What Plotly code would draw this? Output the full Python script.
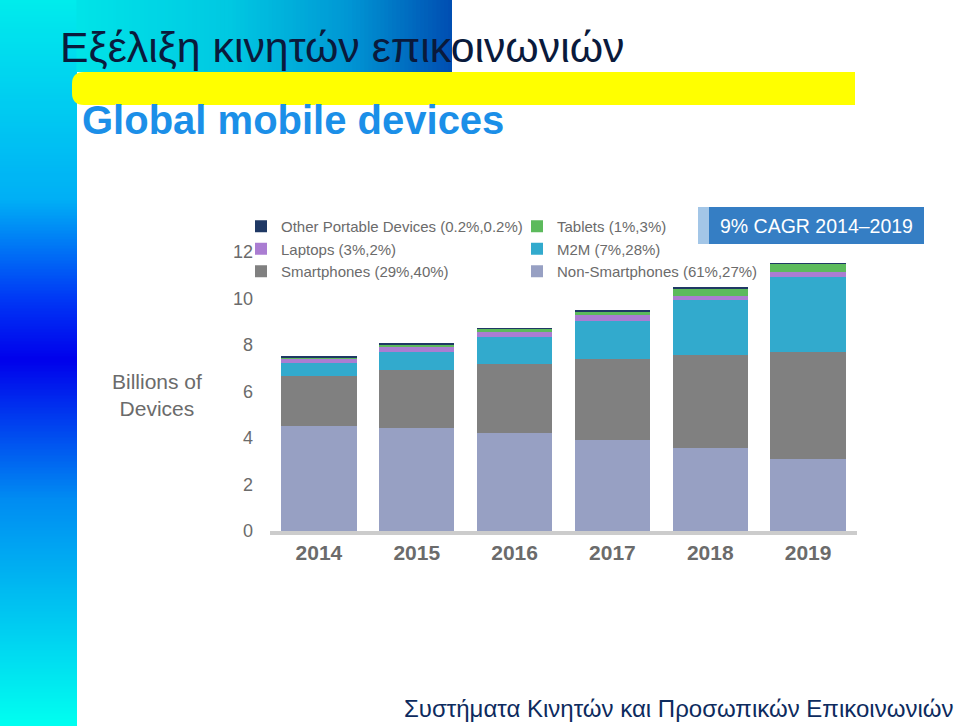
import plotly.graph_objects as go

# ---------------- data ----------------
years = ["2014", "2015", "2016", "2017", "2018", "2019"]
non_smartphones = [4.52, 4.44, 4.23, 3.91, 3.57, 3.10]
smartphones = [2.15, 2.48, 2.95, 3.49, 4.00, 4.61]
m2m = [0.56, 0.79, 1.18, 1.65, 2.37, 3.23]
laptops = [0.17, 0.19, 0.19, 0.24, 0.18, 0.21]
tablets = [0.07, 0.14, 0.15, 0.17, 0.32, 0.34]
other_portable = [0.02, 0.02, 0.02, 0.02, 0.02, 0.02]

series = [
    # name, values, colour, legend group, legend rank
    ("Non-Smartphones (61%,27%)", non_smartphones, "#97a0c3", "b", 6),
    ("Smartphones (29%,40%)", smartphones, "#808080", "a", 3),
    ("M2M (7%,28%)", m2m, "#32aacd", "b", 5),
    ("Laptops (3%,2%)", laptops, "#aa7dd2", "a", 2),
    ("Tablets (1%,3%)", tablets, "#5cba5c", "b", 4),
    ("Other Portable Devices (0.2%,0.2%)", other_portable, "#1f3864", "a", 1),
]
y_ticks = [0, 2, 4, 6, 8, 10, 12]

# ---------------- geometry helpers ----------------
FW, FH = 960, 726
L, R, T, B = 270, 103, 240, 195
PW, PH = FW - L - R, FH - T - B
YMAX = PH / 23.25


def fx(px):
    return (px - L) / PW


def fy(py):
    return (FH - B - py) / PH


def lerp_stops(stops, v):
    for (p0, c0), (p1, c1) in zip(stops[:-1], stops[1:]):
        if p0 <= v <= p1:
            t = (v - p0) / (p1 - p0) if p1 > p0 else 0
            return tuple(int(round(a + (b - a) * t)) for a, b in zip(c0, c1))
    return stops[-1][1]


shapes = []
# left vertical gradient strip
left_stops = [(0, (0, 236, 236)), (200, (0, 175, 245)), (300, (0, 55, 245)),
              (360, (0, 0, 236)), (500, (0, 140, 242)), (726, (0, 255, 240))]
step = 3
for y0 in range(0, FH, step):
    c = lerp_stops(left_stops, y0 + step / 2)
    shapes.append(dict(type="rect", xref="paper", yref="paper", layer="below",
                       x0=fx(-1), x1=fx(77), y0=fy(y0 - 0.6), y1=fy(y0 + step + 0.6),
                       fillcolor="rgb(%d,%d,%d)" % c, line=dict(width=0)))
# top horizontal gradient strip
top_stops = [(77, (0, 228, 232)), (230, (0, 200, 226)), (350, (0, 150, 212)),
             (452, (0, 78, 178))]
step = 4
for x0 in range(77, 452, step):
    c = lerp_stops(top_stops, x0 + step / 2)
    shapes.append(dict(type="rect", xref="paper", yref="paper", layer="below",
                       x0=fx(x0 - 0.6), x1=fx(min(x0 + step + 0.6, 452)), y0=fy(-1), y1=fy(72),
                       fillcolor="rgb(%d,%d,%d)" % c, line=dict(width=0)))
# yellow highlight bar with rounded left end
r = 12
path = ("M {a},{b} L {c},{b} L {c},{d} L {a},{d} Q {e},{d} {e},{f} L {e},{g} Q {e},{b} {a},{b} Z"
        .format(a=fx(72 + r), b=fy(72), c=fx(855), d=fy(105), e=fx(72),
                f=fy(105 - r), g=fy(72 + r)))
shapes.append(dict(type="path", xref="paper", yref="paper", layer="below", path=path,
                   fillcolor="#ffff00", line=dict(width=0)))
# CAGR box
shapes.append(dict(type="rect", xref="paper", yref="paper", layer="above",
                   x0=fx(698), x1=fx(709), y0=fy(207), y1=fy(244),
                   fillcolor="#a3c6e7", line=dict(width=0)))
shapes.append(dict(type="rect", xref="paper", yref="paper", layer="above",
                   x0=fx(709), x1=fx(924), y0=fy(207), y1=fy(244),
                   fillcolor="#357ec4", line=dict(width=0)))

# ---------------- figure ----------------
fig = go.Figure()
for name, vals, col, grp, rank in series:
    fig.add_trace(go.Bar(x=years, y=vals, name=name, marker=dict(color=col, line=dict(width=0)),
                         legendgroup=grp, legendrank=rank, hoverinfo="skip"))

TEXT_GREY = "#6b6b6b"
annotations = [
    dict(text="Εξέλιξη κινητών επικοινωνιών", x=fx(58), y=fy(47), xanchor="left", yanchor="middle",
         font=dict(family="Liberation Sans, Arial", size=42.8, color="#0a1a3c")),
    dict(text="<b>Global mobile devices</b>", x=fx(80), y=fy(120), xanchor="left", yanchor="middle",
         font=dict(family="Liberation Sans, Arial", size=40, color="#1b8fe8")),
    dict(text="Συστήματα Κινητών και Προσωπικών Επικοινωνιών", x=fx(955), y=fy(708),
         xanchor="right", yanchor="middle",
         font=dict(family="Liberation Sans, Arial", size=24, color="#0d2b5e")),
    dict(text="Billions of<br>Devices", x=fx(157), y=fy(395), xanchor="center", yanchor="middle",
         font=dict(family="Liberation Sans, Arial", size=21, color=TEXT_GREY)),
    dict(text="9% CAGR 2014–2019", x=fx(816), y=fy(226), xanchor="center", yanchor="middle",
         font=dict(family="Liberation Sans, Arial", size=19.5, color="#ffffff")),
]
for a in annotations:
    a.update(xref="paper", yref="paper", showarrow=False)

fig.update_layout(
    width=FW, height=FH,
    margin=dict(l=L, r=R, t=T, b=B, autoexpand=False),
    barmode="stack", bargap=0.23,
    paper_bgcolor="#ffffff", plot_bgcolor="rgba(0,0,0,0)",
    font=dict(family="Liberation Sans, Arial", color=TEXT_GREY),
    shapes=shapes, annotations=annotations,
    showlegend=True,
    legend=dict(orientation="h", traceorder="grouped", x=fx(241), y=fy(210),
                xanchor="left", yanchor="top", entrywidth=231, entrywidthmode="pixels",
                font=dict(family="Liberation Sans, Arial", size=15, color=TEXT_GREY),
                bgcolor="rgba(0,0,0,0)", itemclick=False, itemdoubleclick=False),
    xaxis=dict(type="category", showgrid=False, zeroline=False, showline=True,
               linecolor="#cccccc", linewidth=4, ticks="",
               tickfont=dict(family="Liberation Sans, Arial", size=21, color=TEXT_GREY),
               tickprefix="<b>", ticksuffix="</b>", ticklabelstandoff=0),
    yaxis=dict(range=[0, YMAX], tickvals=y_ticks, showgrid=False, zeroline=False,
               showline=False, ticks="", ticklabelstandoff=16,
               tickfont=dict(family="Liberation Sans, Arial", size=18, color=TEXT_GREY)),
)

fig.write_html("out.html", config={"displayModeBar": False},
               post_script="document.body.style.margin='0';document.body.style.padding='0';"
                           "document.documentElement.style.overflow='hidden';")
